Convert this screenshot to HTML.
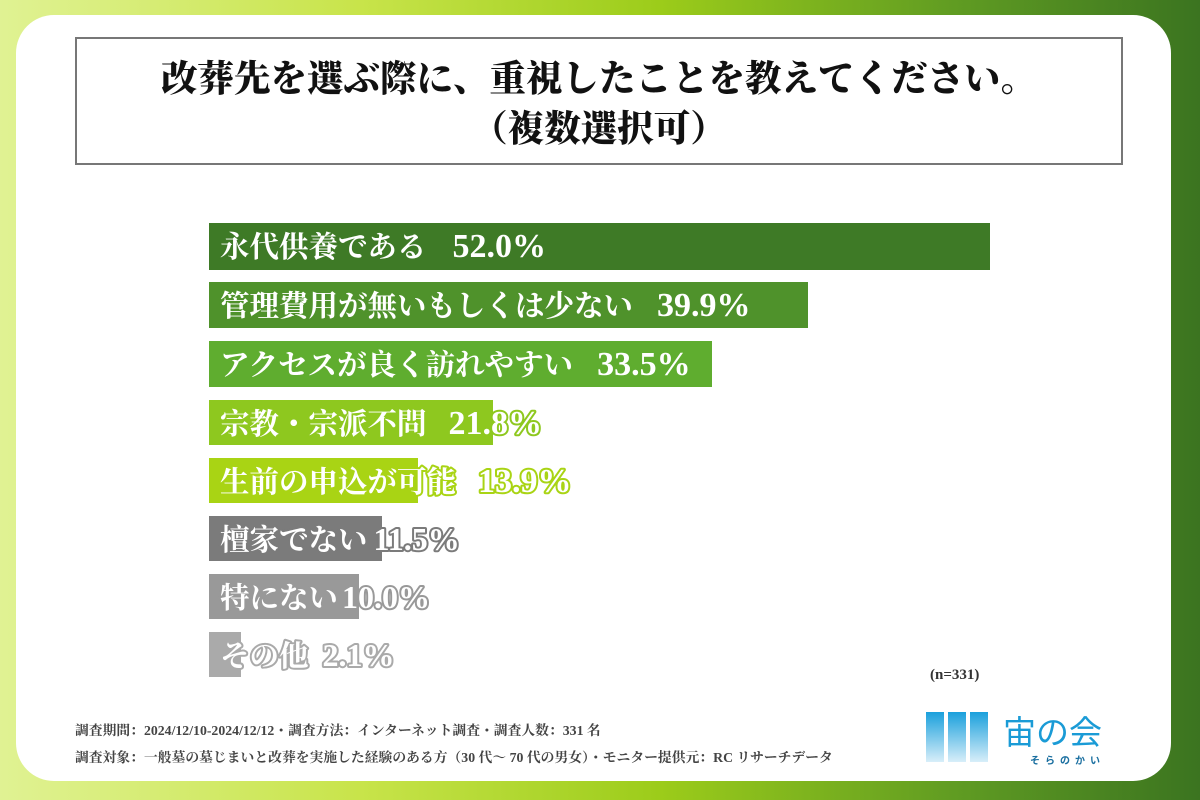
<!DOCTYPE html>
<html><head><meta charset="utf-8"><style>
html,body{margin:0;padding:0}
body{width:1200px;height:800px;overflow:hidden;background:linear-gradient(90deg,#e0f293 0%,#c8e44a 30%,#9ccc1a 55%,#5f9b22 80%,#3b7420 100%);position:relative;font-family:"Liberation Serif","Noto Serif CJK SC",serif}
.card{position:absolute;left:16px;top:15px;width:1155px;height:766px;background:#fff;border-radius:38px}
.title{position:absolute;left:75px;top:37px;width:1048px;height:128px;border:2px solid #777;box-sizing:border-box;text-align:center;font-weight:900;font-size:36.5px;line-height:50px;padding-top:15px;color:#111}
</style></head><body>
<div class="card"></div>
<div class="title">改葬先を選ぶ際に、重視したことを教えてください。<br>（複数選択可）</div>
<svg width="1200" height="800" style="position:absolute;left:0;top:0" font-family="Liberation Serif, Noto Serif CJK SC, serif" font-weight="bold">
<g>
<rect x="209" y="223" width="781" height="47" fill="#3e7a26"/>
<rect x="209" y="282" width="599" height="46" fill="#4f922b"/>
<rect x="209" y="341" width="503" height="46" fill="#5fad2f"/>
<rect x="209" y="400" width="284" height="45" fill="#8ec81f"/>
<rect x="209" y="458" width="209" height="45" fill="#a9d414"/>
<rect x="209" y="516" width="173" height="45" fill="#7b7b7b"/>
<rect x="209" y="574" width="150" height="45" fill="#999"/>
<rect x="209" y="632" width="32" height="45" fill="#aaa"/>
</g>
<g font-size="29.5" fill="#fff" stroke-width="4" paint-order="stroke" stroke-linejoin="round">
<text x="220" y="257" stroke="#3e7a26">永代供養である<tspan dx="26" font-size="34">52.0%</tspan></text>
<text x="220" y="316" stroke="#4f922b">管理費用が無いもしくは少ない<tspan dx="24" font-size="34">39.9%</tspan></text>
<text x="220" y="375" stroke="#5fad2f">アクセスが良く訪れやすい<tspan dx="24" font-size="34">33.5%</tspan></text>
<text x="220" y="434" stroke="#8ec81f">宗教・宗派不問<tspan dx="22" font-size="34">21.8%</tspan></text>
<text x="220" y="492" stroke="#a9d414">生前の申込が可能<tspan dx="22" font-size="34">13.9%</tspan></text>
<text x="220" y="550" stroke="#7b7b7b">檀家でない<tspan dx="6" font-size="32">11.5%</tspan></text>
<text x="220" y="608" stroke="#999">特にない<tspan dx="4" font-size="32">10.0%</tspan></text>
<text x="220" y="666" stroke="#aaa">その他<tspan dx="14" font-size="32">2.1%</tspan></text>
</g>
<text x="930" y="679" font-size="15" fill="#333">(n=331)</text>
<g font-size="13.8" fill="#444">
<text x="75" y="735">調査期間：2024/12/10-2024/12/12・調査方法：インターネット調査・調査人数：331 名</text>
<text x="75" y="762">調査対象：一般墓の墓じまいと改葬を実施した経験のある方（30 代～ 70 代の男女）・モニター提供元：RC リサーチデータ</text>
</g>
<defs><linearGradient id="lg" x1="0" y1="0" x2="0" y2="1"><stop offset="0" stop-color="#1aa0dc"/><stop offset="1" stop-color="#d8eef9"/></linearGradient></defs>
<rect x="926" y="712" width="18" height="50" fill="url(#lg)"/>
<rect x="948" y="712" width="18" height="50" fill="url(#lg)"/>
<rect x="970" y="712" width="18" height="50" fill="url(#lg)"/>
<text x="1003" y="744" font-size="33" fill="#1a9bd6" font-weight="normal" font-family="Liberation Sans, Noto Sans CJK JP, sans-serif">宙の会</text>
<text x="1030" y="764" font-size="10" fill="#1a6fa0" letter-spacing="5" font-family="Liberation Sans, Noto Sans CJK JP, sans-serif">そらのかい</text>
</svg>
</body></html>
